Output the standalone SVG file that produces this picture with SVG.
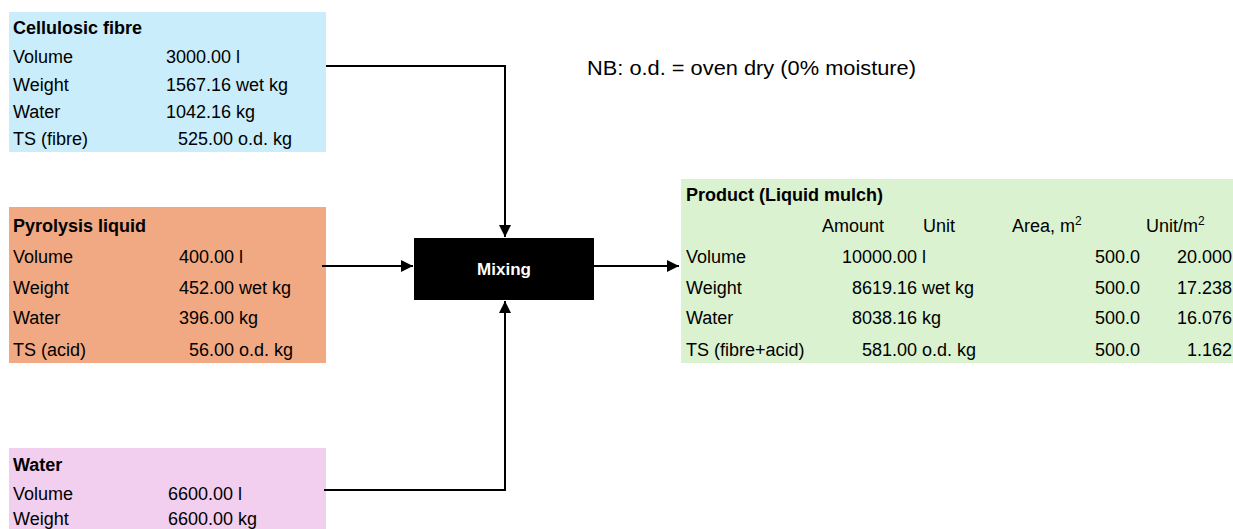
<svg xmlns="http://www.w3.org/2000/svg" width="1233" height="529" viewBox="0 0 1233 529">
<style>
text{font-family:"Liberation Sans",Arial,sans-serif;font-size:18px;fill:#000}
.b{font-weight:bold}
.e{text-anchor:end}
.conn{fill:none;stroke:#000;stroke-width:2}
.mix{font-size:17px;font-weight:bold;fill:#fff;text-anchor:middle}
.sup{font-size:12px}
</style>
<defs>
<marker id="ah" markerUnits="userSpaceOnUse" markerWidth="14" markerHeight="12" refX="12" refY="6" orient="auto">
<path d="M0,0 L12,6 L0,12 Z" fill="#000"/>
</marker>
</defs>
<rect width="1233" height="529" fill="#fff"/>
<g id="cellulosic">
<rect x="9" y="12" width="317" height="140" fill="#CAEDFB"/>
<text x="13" y="34" class="b">Cellulosic fibre</text>
<text x="13" y="63">Volume</text><text x="231" y="63" class="e">3000.00</text><text x="236" y="63">l</text>
<text x="13" y="91">Weight</text><text x="231" y="91" class="e">1567.16</text><text x="236" y="91">wet kg</text>
<text x="13" y="118">Water</text><text x="231" y="118" class="e">1042.16</text><text x="236" y="118">kg</text>
<text x="13" y="145">TS (fibre)</text><text x="233" y="145" class="e">525.00</text><text x="238" y="145">o.d. kg</text>
</g>
<g id="pyrolysis">
<rect x="9" y="207" width="317" height="156" fill="#F1A983"/>
<text x="13" y="232" class="b">Pyrolysis liquid</text>
<text x="13" y="263">Volume</text><text x="234" y="263" class="e">400.00</text><text x="239" y="263">l</text>
<text x="13" y="294">Weight</text><text x="234" y="294" class="e">452.00</text><text x="239" y="294">wet kg</text>
<text x="13" y="324">Water</text><text x="234" y="324" class="e">396.00</text><text x="239" y="324">kg</text>
<text x="13" y="356">TS (acid)</text><text x="234" y="356" class="e">56.00</text><text x="239" y="356">o.d. kg</text>
</g>
<g id="water">
<rect x="9" y="448" width="317" height="81" fill="#F2CEEF"/>
<text x="13" y="471" class="b">Water</text>
<text x="13" y="500">Volume</text><text x="233" y="500" class="e">6600.00</text><text x="238" y="500">l</text>
<text x="13" y="525">Weight</text><text x="233" y="525" class="e">6600.00</text><text x="238" y="525">kg</text>
</g>
<g id="mixing">
<rect x="414" y="238" width="180" height="62" fill="#000"/>
<text x="504" y="275" class="mix">Mixing</text>
</g>
<g id="product">
<rect x="681" y="179" width="552" height="184" fill="#DAF2D0"/>
<text x="686" y="201" class="b">Product (Liquid mulch)</text>
<text x="822" y="232">Amount</text>
<text x="923" y="232">Unit</text>
<text x="1012" y="232">Area, m<tspan class="sup" dy="-7">2</tspan></text>
<text x="1146" y="232">Unit/m<tspan class="sup" dy="-7">2</tspan></text>
<text x="686" y="263">Volume</text><text x="917" y="263" class="e">10000.00</text><text x="922" y="263">l</text><text x="1140" y="263" class="e">500.0</text><text x="1232" y="263" class="e">20.000</text>
<text x="686" y="294">Weight</text><text x="917" y="294" class="e">8619.16</text><text x="922" y="294">wet kg</text><text x="1140" y="294" class="e">500.0</text><text x="1232" y="294" class="e">17.238</text>
<text x="686" y="324">Water</text><text x="917" y="324" class="e">8038.16</text><text x="922" y="324">kg</text><text x="1140" y="324" class="e">500.0</text><text x="1232" y="324" class="e">16.076</text>
<text x="686" y="356">TS (fibre+acid)</text><text x="917" y="356" class="e">581.00</text><text x="922" y="356">o.d. kg</text><text x="1140" y="356" class="e">500.0</text><text x="1232" y="356" class="e">1.162</text>
</g>
<g id="note">
<text x="587" y="75" style="font-size:20px" textLength="329" lengthAdjust="spacingAndGlyphs">NB: o.d. = oven dry (0% moisture)</text>
</g>
<g id="connectors">
<path class="conn" d="M326,66 H505 V237" marker-end="url(#ah)"/>
<path class="conn" d="M322,266 H413" marker-end="url(#ah)"/>
<path class="conn" d="M594,266 H679" marker-end="url(#ah)"/>
<path class="conn" d="M324,490 H505 V301" marker-end="url(#ah)"/>
</g>
</svg>
